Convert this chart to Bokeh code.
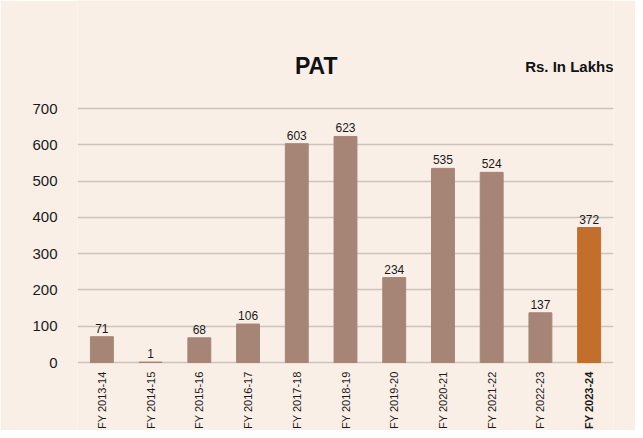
import math
from bokeh.plotting import figure
from bokeh.models import Range1d, Label, ColumnDataSource, FixedTicker
from bokeh.core.properties import value
from bokeh.embed import file_html
from bokeh.resources import INLINE

categories = ["FY 2013-14", "FY 2014-15", "FY 2015-16", "FY 2016-17", "FY 2017-18",
              "FY 2018-19", "FY 2019-20", "FY 2020-21", "FY 2021-22", "FY 2022-23", "FY 2023-24"]
pat = [71, 1, 68, 106, 603, 623, 234, 535, 524, 137, 372]
y_ticks = [0, 100, 200, 300, 400, 500, 600, 700]
title_text = "PAT"
unit_text = "Rs. In Lakhs"

BG = "#FAEFE7"
BAR = "#A68576"
HIGHLIGHT = "#C26F2B"
FONT = "Liberation Sans"

W, H = 635, 430
TOP_PX, BOTTOM_PX = 108, 68          # pixel space above 700 / below 0
ppu = (H - TOP_PX - BOTTOM_PX) / 700.0
y0 = -BOTTOM_PX / ppu
y1 = 700 + TOP_PX / ppu

p = figure(width=W, height=H, output_backend="svg", toolbar_location=None,
           x_range=Range1d(-0.5, len(categories) - 0.5), y_range=Range1d(y0, y1),
           min_border_left=77, min_border_right=22, min_border_top=0, min_border_bottom=0,
           background_fill_color=BG, border_fill_color=BG, outline_line_color=None)

xs = list(range(len(categories)))
colors = [BAR] * (len(categories) - 1) + [HIGHLIGHT]
src = ColumnDataSource(dict(x=xs, top=pat, color=colors, label=[str(v) for v in pat]))

p.vbar(x="x", top="top", bottom=0, width=0.47, color="color", source=src)
p.text(x="x", y="top", text="label", source=src, text_align="center", text_baseline="bottom",
       y_offset=-4, text_font=value(FONT), text_font_size="12px", text_color="#1a1a1a")

p.xaxis.visible = False
p.xgrid.visible = False
p.ygrid.ticker = FixedTicker(ticks=y_ticks)
p.ygrid.grid_line_color = "#CBC3BC"
p.ygrid.grid_line_width = 1.5
p.yaxis.ticker = FixedTicker(ticks=y_ticks)
p.yaxis.axis_line_color = None
p.yaxis.major_tick_line_color = None
p.yaxis.minor_tick_line_color = None
p.yaxis.major_label_text_font = FONT
p.yaxis.major_label_text_font_size = "15px"
p.yaxis.major_label_text_color = "#1a1a1a"
p.yaxis.major_label_standoff = 14

for i, c in enumerate(categories):
    p.add_layout(Label(x=i, y=-9 / ppu, text=c, angle=math.pi / 2, text_align="right",
                       text_baseline="middle", text_font=FONT, text_font_size="11px",
                       text_color="#1a1a1a",
                       text_font_style="bold" if i == len(categories) - 1 else "normal"))

p.add_layout(Label(x=4.40, y=700 + 43 / ppu, text=title_text, text_align="center",
                   text_baseline="alphabetic", text_font=FONT, text_font_size="23px",
                   text_font_style="bold", text_color="#111111"))
p.add_layout(Label(x=len(categories) - 0.5, y=700 + 42 / ppu, text=unit_text, text_align="right",
                   text_baseline="alphabetic", text_font=FONT, text_font_size="15px",
                   text_font_style="bold", text_color="#111111"))

open("out.html", "w").write(file_html(p, INLINE))
